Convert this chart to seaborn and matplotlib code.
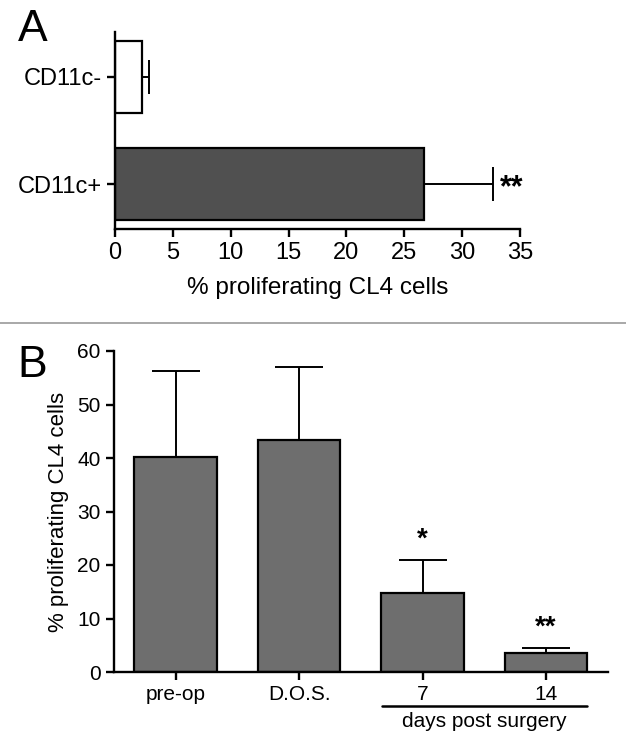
import matplotlib
matplotlib.use("Agg")
import matplotlib.pyplot as plt
import matplotlib.transforms as mtransforms
import seaborn as sns
import pandas as pd

# Panel A data
groups_a = ["CD11c-", "CD11c+"]
values_a = [2.3, 26.7]
errors_a = [0.6, 6.0]
colors_a = ["#ffffff", "#505050"]
stars_a = ["", "**"]

# Panel B data
groups_b = ["pre-op", "D.O.S.", "7", "14"]
values_b = [40.2, 43.3, 14.8, 3.5]
errors_b = [16.0, 13.7, 6.2, 0.9]
stars_b = ["", "", "*", "**"]

sns.set_style("ticks")
plt.rcParams["font.family"] = ["Liberation Sans", "DejaVu Sans"]
plt.rcParams["text.color"] = "black"
plt.rcParams["axes.labelcolor"] = "black"
plt.rcParams["axes.edgecolor"] = "black"
plt.rcParams["xtick.color"] = "black"
plt.rcParams["ytick.color"] = "black"
plt.rcParams["axes.linewidth"] = 1.7
plt.rcParams["xtick.major.width"] = 1.7
plt.rcParams["ytick.major.width"] = 1.7
plt.rcParams["xtick.major.size"] = 6
plt.rcParams["ytick.major.size"] = 6

fig = plt.figure(figsize=(6.26, 7.5), dpi=100)

# ---- Panel A ----
ax1 = fig.add_axes([0.1837, 0.6947, 0.647, 0.2626])
df_a = pd.DataFrame({"group": groups_a, "value": values_a})
sns.barplot(data=df_a, x="value", y="group", hue="group", palette=colors_a,
            order=groups_a, orient="h", width=0.667, edgecolor="black",
            linewidth=1.6, legend=False, ax=ax1)
ax1.errorbar(values_a, range(len(groups_a)), xerr=[[0] * len(errors_a), errors_a],
             fmt="none", ecolor="black", elinewidth=1.4, capsize=12, capthick=1.4)
for i, s in enumerate(stars_a):
    if s:
        ax1.text(values_a[i] + errors_a[i] + 0.6, i + 0.04, s, ha="left", va="center",
                 fontsize=22, fontweight="bold")
ax1.set_xlim(0, 35)
ax1.set_xticks(range(0, 36, 5))
ax1.set_ylabel("")
ax1.set_xlabel("% proliferating CL4 cells", fontsize=17.5, labelpad=9)
ax1.tick_params(labelsize=17)
sns.despine(ax=ax1)
fig.text(0.028, 0.988, "A", fontsize=32, va="top", ha="left")

# separator
fig.add_artist(plt.Line2D([0, 1], [0.569, 0.569], color="#999999", linewidth=1.2))

# ---- Panel B ----
ax2 = fig.add_axes([0.182, 0.104, 0.789, 0.428])
df_b = pd.DataFrame({"group": groups_b, "value": values_b})
sns.barplot(data=df_b, x="group", y="value", color="#6e6e6e", order=groups_b,
            width=0.667, edgecolor="black", linewidth=1.6, ax=ax2)
ax2.errorbar(range(len(groups_b)), values_b, yerr=[[0] * len(errors_b), errors_b],
             fmt="none", ecolor="black", elinewidth=1.4, capsize=17, capthick=1.4)
for i, s in enumerate(stars_b):
    if s:
        ax2.text(i, values_b[i] + errors_b[i] + 1.4, s, ha="center", va="bottom",
                 fontsize=20, fontweight="bold")
ax2.set_ylim(0, 60)
ax2.set_yticks(range(0, 61, 10))
ax2.set_xlim(-0.5, 3.5)
ax2.set_xlabel("")
ax2.set_ylabel("% proliferating CL4 cells", fontsize=16, labelpad=6)
ax2.tick_params(labelsize=15)
sns.despine(ax=ax2)

# bracket under days post surgery
trans = mtransforms.blended_transform_factory(ax2.transData, ax2.transAxes)
ax2.plot([2 - 0.33, 3 + 0.33], [-0.105, -0.105], color="black", linewidth=1.8,
         transform=trans, clip_on=False)
ax2.text(2.5, -0.125, "days post surgery", ha="center", va="top", fontsize=15,
         transform=trans)
fig.text(0.028, 0.54, "B", fontsize=32, va="top", ha="left")

fig.savefig("out.png", dpi=100)
